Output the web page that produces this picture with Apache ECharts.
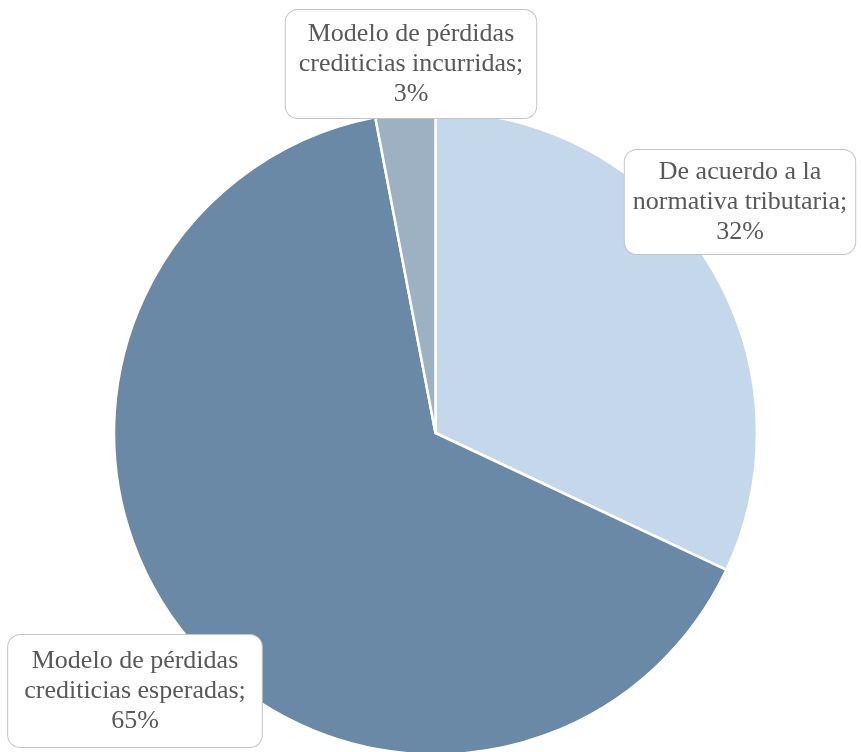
<!DOCTYPE html>
<html>
<head>
<meta charset="utf-8">
<script src="https://cdn.jsdelivr.net/npm/echarts@6/dist/echarts.min.js"></script>
<style>html,body{margin:0;padding:0;background:#fff}#c{width:861px;height:752px}</style>
</head>
<body>
<div id="c"></div>
<script>
const categories = [
  "De acuerdo a la\nnormativa tributaria",
  "Modelo de pérdidas\ncrediticias esperadas",
  "Modelo de pérdidas\ncrediticias incurridas"
];
const values = [32, 65, 3];
const colors = ["#c5d7ea", "#6a89a7", "#9eb1c2"];
const labelCenters = [[740, 202], [135, 691], [411, 64]];
const labelPadding = [[7, 8, 7, 8], [11, 16, 11, 16], [9, 13, 9, 13]];

const chart = echarts.init(document.getElementById('c'));
chart.setOption({
  animation: false,
  series: [{
    type: 'pie',
    center: [435.5, 433],
    radius: 321.5,
    startAngle: 90,
    clockwise: true,
    avoidLabelOverlap: false,
    itemStyle: { borderColor: '#ffffff', borderWidth: 2.5 },
    labelLine: { show: false },
    emphasis: { disabled: true },
    label: {
      show: true,
      position: 'outside',
      formatter: p => p.name + ';\n' + p.value + '%',
      fontFamily: '"Liberation Serif", "Times New Roman", serif',
      fontSize: 26,
      lineHeight: 30,
      color: '#595959',
      align: 'center',
      backgroundColor: '#ffffff',
      borderColor: '#c4c4c4',
      borderWidth: 1,
      borderRadius: 12
    },
    labelLayout: function (params) {
      const c = labelCenters[params.dataIndex];
      return { x: c[0], y: c[1], align: 'center', verticalAlign: 'middle' };
    },
    data: categories.map((n, i) => ({
      name: n,
      value: values[i],
      itemStyle: { color: colors[i] },
      label: { padding: labelPadding[i] }
    }))
  }]
});
</script>
</body>
</html>
